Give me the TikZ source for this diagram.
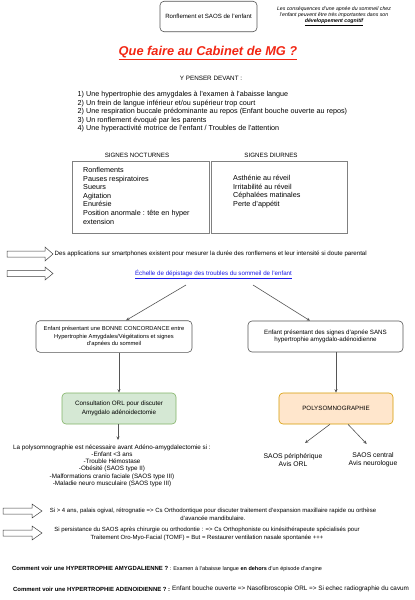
\documentclass[tikz,border=0pt]{standalone}
\usepackage{fontspec}
\setmainfont{Liberation Sans}
\usetikzlibrary{arrows.meta}
\definecolor{titlered}{HTML}{F22613}
\definecolor{linkblue}{HTML}{1A1AE6}
\definecolor{greenfill}{HTML}{D5E8D4}
\definecolor{greenline}{HTML}{82B366}
\definecolor{orangefill}{HTML}{FFE6CC}
\definecolor{orangeline}{HTML}{D79B00}
\definecolor{edgegrey}{HTML}{555555}
\definecolor{tblline}{HTML}{808080}
\newcommand{\fsz}[2]{\fontsize{#1}{#2}\selectfont}
\tikzset{
  txt/.style={inner sep=0pt, font=\fsz{6.2}{7.1}, align=center},
  listtxt/.style={inner sep=0pt, font=\fsz{7.2}{8.6}, align=left},
  roundbox/.style={draw=edgegrey, line width=0.6pt, rounded corners=4pt, inner sep=1pt, align=center, font=\fsz{6.1}{7.5}},
  conn/.style={draw=edgegrey, line width=0.6pt, -{Stealth[length=3.5pt,width=3pt]}},
  blockarrow/.style={draw=black!75, line width=0.5pt, fill=white},
  cell/.style={draw=tblline, line width=0.8pt},
}
\begin{document}
\begin{tikzpicture}[x=1pt,y=-1pt]
\useasboundingbox (0,0) rectangle (415,600);
\fill[white] (0,0) rectangle (415,600);

% header
\node[roundbox, minimum width=97pt, minimum height=30.5pt] (topbox) at (208.5,16.5) {Ronflement et SAOS de l'enfant};
\node[inner sep=0pt, align=center, font=\fsz{5.2}{6}\itshape] (conseq) at (334,16)
  {Les conséquences d'une apnée du sommeil chez\\l'enfant peuvent être très importantes dans son\\\textbf{\underline{développement cognitif}}};
\node[inner sep=0pt, font=\fsz{12.8}{14}\bfseries\itshape, text=titlered] (title) at (208,53) {\underline{Que faire au Cabinet de MG ?}};

\node[txt, font=\fsz{6.3}{7}] (penser) at (211,78.5) {Y PENSER DEVANT :};
\node[listtxt, anchor=north west] (list) at (77.5,91) {%
1) Une hypertrophie des amygdales à l'examen à l'abaisse langue\\
2) Un frein de langue inférieur et/ou supérieur trop court\\
2) Une respiration buccale prédominante au repos (Enfant bouche ouverte au repos)\\
3) Un ronflement évoqué par les parents\\
4) Une hyperactivité motrice de l'enfant / Troubles de l'attention};

% table
\node[txt, font=\fsz{6.2}{7}] (hnoct) at (137,155.5) {SIGNES NOCTURNES};
\node[txt, font=\fsz{6.2}{7}] (hdiur) at (271,155.5) {SIGNES DIURNES};
\draw[cell] (72.5,161) rectangle (209,233.5);
\draw[cell] (211,161) rectangle (347.5,233.5);
\node[listtxt, anchor=north west] (noct) at (83,167) {%
Ronflements\\
Pauses respiratoires\\
Sueurs\\
Agitation\\
Enurésie\\
Position anormale : tête en hyper\\
extension};
\node[listtxt, anchor=north west] (diur) at (233,175) {%
Asthénie au réveil\\
Irritabilité au réveil\\
Céphalées matinales\\
Perte d'appétit};

% block arrows 1 & 2
\draw[blockarrow] (7,251)--(45,251)--(45,247)--(53,254)--(45,261)--(45,257)--(7,257)--cycle;
\node[txt, anchor=west, font=\fsz{6.15}{7}] (apps) at (54.5,254) {Des applications sur smartphones existent pour mesurer la durée des ronflemens et leur intensité si doute parental};
\draw[blockarrow] (7,270.5)--(45,270.5)--(45,267)--(53,273.5)--(45,280)--(45,276.5)--(7,276.5)--cycle;
\node[txt, text=linkblue] (link) at (213.5,274.5) {\underline{Échelle de dépistage des troubles du sommeil de l'enfant}};

% decision boxes
\node[roundbox, minimum width=156pt, minimum height=31.6pt, font=\fsz{5.75}{7.5}] (bonne) at (114,336.5)
  {Enfant présentant une BONNE CONCORDANCE entre\\Hypertrophie Amygdales/Végétations et signes\\d'apnées du sommeil};
\node[roundbox, minimum width=155pt, minimum height=31pt, font=\fsz{6.2}{7.5}] (sans) at (325.5,336.5)
  {Enfant présentant des signes d'apnée SANS\\hypertrophie amygdalo-adénoidienne};

\coordinate (linkL) at (186,285);
\coordinate (linkR) at (253,285);
\draw[conn] (linkL) -- ([xshift=12pt]bonne.north);
\draw[conn] (linkR) -- ([xshift=-15.5pt]sans.north);

\node[roundbox, draw=greenline, fill=greenfill, minimum width=114pt, minimum height=31pt, font=\fsz{6.3}{8.5}] (orl) at (119,408.5)
  {Consultation ORL pour discuter\\Amygdalo adénoidectomie};
\node[roundbox, draw=orangeline, fill=orangefill, minimum width=114pt, minimum height=31pt, font=\fsz{6.2}{8.5}] (psg) at (336,408.5)
  {POLYSOMNOGRAPHIE};

\draw[conn] (bonne.south -| orl.north) -- (orl.north);
\draw[conn] (sans.south -| psg.north) -- (psg.north);

\node[txt, anchor=north, font=\fsz{6.3}{7.1}] (polytxt) at (112,444.8) {%
La polysomnographie est nécessaire avant Adéno-amygdalectomie si :\\
-Enfant <3 ans\\
-Trouble Hémostase\\
-Obésité (SAOS type II)\\
-Malformations cranio faciale (SAOS type III)\\
-Maladie neuro musculaire (SAOS type III)};
\draw[conn] (orl.south -| 118,0) -- (118,440);

\node[txt, font=\fsz{6.8}{8}] (saosp) at (293,460) {SAOS périphérique\\Avis ORL};
\node[txt, font=\fsz{6.8}{8}] (saosc) at (373,460) {SAOS central\\Avis neurologue};
\coordinate (pL) at (305,443);
\coordinate (pR) at (366.7,444);
\draw[conn] ([xshift=-6pt]psg.south) -- (pL);
\draw[conn] ([xshift=12pt]psg.south) -- (pR);

% block arrows 3 & 4
\draw[blockarrow] (3,508)--(32,508)--(32,504)--(42,511)--(32,518)--(32,514)--(3,514)--cycle;
\node[txt, font=\fsz{6}{8}] (ortho) at (213,514) {Si > 4 ans, palais ogival, rétrognatie => Cs Orthodontique pour discuter traitement d'expansion maxillaire rapide ou orthèse\\d'avancée mandibulaire.};
\draw[blockarrow] (3,530)--(32,530)--(32,526)--(42,533)--(32,540)--(32,536)--(3,536)--cycle;
\node[txt, font=\fsz{6}{8}] (tomf) at (207,534) {Si persistance du SAOS après chirurgie ou orthodontie : => Cs Orthophoniste ou kinésithérapeute spécialisés pour\\Traitement Oro-Myo-Facial (TOMF) = But = Restaurer ventilation nasale spontanée +++};

% bottom questions
\node[txt, anchor=west, font=\fsz{5.5}{7}] (qamy) at (12,569) {{\fontsize{5.95}{7}\selectfont\bfseries Comment voir une HYPERTROPHIE AMYGDALIENNE ?} : Examen à l'abaisse langue \textbf{en dehors} d'un épisode d'angine};
\node[txt, anchor=west, font=\fsz{5.95}{7}\bfseries] (qade) at (13,589.5) {Comment voir une HYPERTROPHIE ADENOIDIENNE ? :};
\node[txt, anchor=west, font=\fsz{6.35}{7}] (qadetxt) at (172,589) {Enfant bouche ouverte => Nasofibroscopie ORL => Si echec radiographie du cavum};
\end{tikzpicture}
\end{document}
